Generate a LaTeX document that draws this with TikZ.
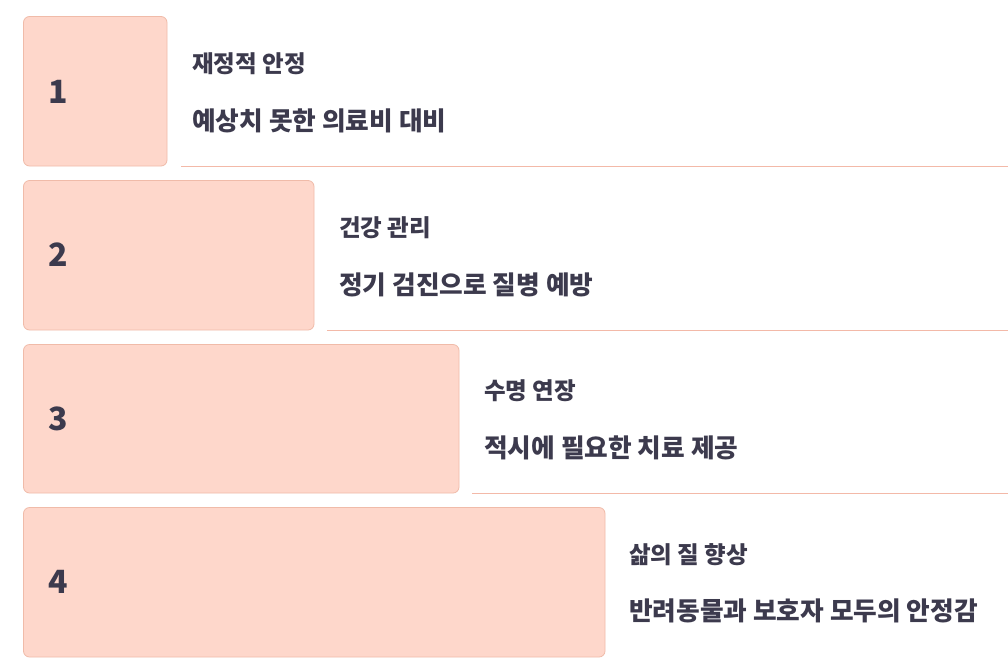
\documentclass[tikz,border=0pt]{standalone}
\usepackage{fontspec}
\setmainfont{Noto Sans CJK KR}
\definecolor{boxfill}{HTML}{FED7CB}
\definecolor{boxline}{HTML}{F0BBA9}
\definecolor{sepline}{HTML}{F3B9A8}
\definecolor{txt}{HTML}{3C3A4D}
\begin{document}
\begin{tikzpicture}[x=1pt,y=-1pt,
  stepbox/.style={draw=boxline,fill=boxfill,line width=0.8pt,rounded corners=6pt},
  numlabel/.style={anchor=west,inner sep=0pt,text=txt,font=\bfseries\fontsize{32}{36}\selectfont},
  titlelabel/.style={anchor=west,inner sep=0pt,text=txt,font=\bfseries\fontsize{23.5}{26}\selectfont},
  sublabel/.style={anchor=west,inner sep=0pt,text=txt,font=\bfseries\fontsize{25.7}{28}\selectfont},
  sep/.style={draw=sepline,line width=0.8pt}]
\useasboundingbox[fill=white] (0,0) rectangle (1008,670);
% boxes
\draw[stepbox] (23.5,16.5) rectangle (167,166) node[coordinate] (b1) {};
\draw[stepbox] (23.5,180.5) rectangle (314,330) node[coordinate] (b2) {};
\draw[stepbox] (23.5,344.5) rectangle (459,493) node[coordinate] (b3) {};
\draw[stepbox] (23.5,507.5) rectangle (605,657) node[coordinate] (b4) {};
% separators
\coordinate (e1) at (1008,166);
\coordinate (e2) at (1008,330);
\coordinate (e3) at (1008,493);
\draw[sep] ([xshift=14pt]b1) -- (e1);
\draw[sep] ([xshift=13pt]b2) -- (e2);
\draw[sep] ([xshift=13pt]b3) -- (e3);
% numbers
\node[numlabel] (n1) at (48,92) {1};
\node[numlabel] (n2) at (48,255) {2};
\node[numlabel] (n3) at (48,419) {3};
\node[numlabel] (n4) at (48,582) {4};
% texts
\node[titlelabel] (t1) at (192,64) {재정적 안정};
\node[sublabel] (s1) at (192,121) {예상치 못한 의료비 대비};
\node[titlelabel] (t2) at (339,228) {건강 관리};
\node[sublabel] (s2) at (339,285) {정기 검진으로 질병 예방};
\node[titlelabel] (t3) at (484,391) {수명 연장};
\node[sublabel] (s3) at (484,448) {적시에 필요한 치료 제공};
\node[titlelabel] (t4) at (629,555) {삶의 질 향상};
\node[sublabel] (s4) at (629,611) {반려동물과 보호자 모두의 안정감};
\end{tikzpicture}
\end{document}
